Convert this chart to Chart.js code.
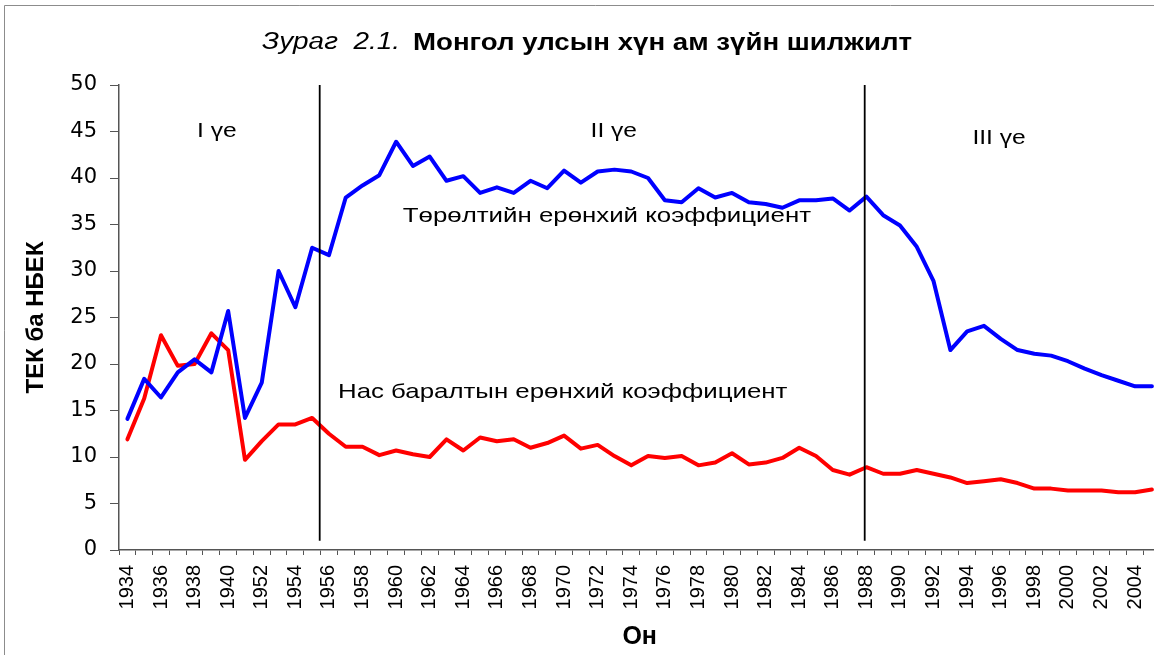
<!DOCTYPE html>
<html><head><meta charset="utf-8">
<script src="https://cdn.jsdelivr.net/npm/chart.js@4.4.1/dist/chart.umd.min.js"></script>
<style>
html,body{margin:0;padding:0;background:#fff;overflow:hidden;width:1154px;height:655px;}
#wrap{position:absolute;left:0;top:0;width:1154px;height:655px;overflow:hidden;background:#fff;}
canvas{position:absolute;left:0;top:0;}
</style></head><body>
<div id="wrap"><canvas id="c" width="1186" height="655"></canvas></div>
<script>
// ---- data ----
const years = ['1934','1935','1936','1937','1938','1939','1940','1950',
  '1952','1953','1954','1955','1956','1957','1958','1959','1960','1961','1962','1963','1964','1965',
  '1966','1967','1968','1969','1970','1971','1972','1973','1974','1975','1976','1977','1978','1979',
  '1980','1981','1982','1983','1984','1985','1986','1987','1988','1989','1990','1991','1992','1993',
  '1994','1995','1996','1997','1998','1999','2000','2001','2002','2003','2004','2005'];
const birthRate = [14.1,18.4,16.4,19.1,20.5,19.1,25.7,14.2,
  18.0,30.0,26.1,32.5,31.7,37.9,39.2,40.3,43.9,41.3,42.3,39.7,40.2,38.4,
  39.0,38.4,39.7,38.9,40.8,39.5,40.7,40.9,40.7,40.0,37.6,37.4,38.9,37.9,
  38.4,37.4,37.2,36.8,37.6,37.6,37.8,36.5,38.0,36.0,34.9,32.6,28.9,21.5,
  23.5,24.1,22.7,21.5,21.1,20.9,20.3,19.5,18.8,18.2,17.6,17.6];
const deathRate = [11.9,16.3,23.1,19.8,20.0,23.3,21.5,9.7,
  11.7,13.5,13.5,14.2,12.5,11.1,11.1,10.2,10.7,10.3,10.0,11.9,10.7,12.1,
  11.7,11.9,11.0,11.5,12.3,10.9,11.3,10.1,9.1,10.1,9.9,10.1,9.1,9.4,
  10.4,9.2,9.4,9.9,11.0,10.1,8.6,8.1,8.9,8.2,8.2,8.6,8.2,7.8,
  7.2,7.4,7.6,7.2,6.6,6.6,6.4,6.4,6.4,6.2,6.2,6.5];
const yTicks = [0,5,10,15,20,25,30,35,40,45,50];
const seriesNames = ['Төрөлтийн ерөнхий коэффициент','Нас баралтын ерөнхий коэффициент'];
const periodNames = ['I үе','II үе','III үе'];
const periodBreaks = ['1956','1988'];
const titleLead = 'Зураг  2.1.';
const titleMain = 'Монгол улсын хүн ам зүйн шилжилт';
const yTitle = 'ТЕК ба НБЕК';
const xTitle = 'Он';

// ---- layout / style (not data) ----
const FONT = '"Liberation Sans", Arial, sans-serif';
const HSCALE = 1.23;
const annotations = [
  {text: periodNames[0], xi: 5.33, yv: 45.05, align: 'center', size: 20},
  {text: periodNames[1], xi: 28.96, yv: 45.05, align: 'center', size: 20},
  {text: periodNames[2], xi: 51.9, yv: 44.3, align: 'center', size: 20},
  {text: seriesNames[0], xi: 16.4, yv: 35.9, align: 'left', size: 21},
  {text: seriesNames[1], xi: 12.54, yv: 17.0, align: 'left', size: 21}
];
const breakShift = [-0.55, -0.1];

function stretchedText(c, text, x, y, sx) {
  c.save();
  c.translate(x, y);
  c.scale(sx, 1);
  c.fillText(text, 0, 0);
  c.restore();
}

const decor = {
  id: 'decor',
  beforeDraw(chart) {
    const c = chart.ctx;
    c.save();
    c.fillStyle = '#fff';
    c.fillRect(0, 0, chart.width, chart.height);
    c.strokeStyle = '#8c8c8c';
    c.lineWidth = 1;
    c.beginPath();
    c.moveTo(4.5, chart.height); c.lineTo(4.5, 5.5); c.lineTo(chart.width, 5.5);
    c.stroke();
    c.restore();
  },
  afterDatasetsDraw(chart) {
    const c = chart.ctx, xs = chart.scales.x, ys = chart.scales.y;
    c.save();
    c.strokeStyle = '#000';
    c.lineWidth = 1.8;
    periodBreaks.forEach((yr, k) => {
      const x = xs.getPixelForValue(years.indexOf(yr) + breakShift[k]);
      c.beginPath();
      c.moveTo(x, ys.getPixelForValue(50));
      c.lineTo(x, ys.getPixelForValue(1.0));
      c.stroke();
    });
    c.restore();
  },
  afterDraw(chart) {
    const c = chart.ctx, xs = chart.scales.x, ys = chart.scales.y;
    c.save();
    c.fillStyle = '#000';
    c.textBaseline = 'middle';
    annotations.forEach(a => {
      c.font = a.size + 'px ' + FONT;
      c.textAlign = a.align;
      stretchedText(c, a.text, xs.getPixelForValue(a.xi), ys.getPixelForValue(a.yv), HSCALE);
    });
    c.textAlign = 'left';
    c.font = 'italic 23px ' + FONT;
    stretchedText(c, titleLead, 262, 43, 138 / c.measureText(titleLead).width);
    c.font = 'bold 24px ' + FONT;
    stretchedText(c, titleMain, 413, 43, 499 / c.measureText(titleMain).width);
    c.restore();
  }
};

new Chart(document.getElementById('c'), {
  type: 'line',
  data: {
    labels: years,
    datasets: [
      {label: seriesNames[0], data: birthRate, borderColor: '#0000ff', backgroundColor: '#0000ff',
       borderWidth: 4, pointRadius: 0, tension: 0, fill: false, borderJoinStyle: 'round', borderCapStyle: 'round'},
      {label: seriesNames[1], data: deathRate, borderColor: '#ff0000', backgroundColor: '#ff0000',
       borderWidth: 4, pointRadius: 0, tension: 0, fill: false, borderJoinStyle: 'round', borderCapStyle: 'round'}
    ]
  },
  options: {
    responsive: false,
    animation: false,
    layout: {padding: {left: 0, top: 85, right: 12, bottom: 0}},
    plugins: {legend: {display: false}, tooltip: {enabled: false}, title: {display: false}},
    scales: {
      x: {
        offset: true,
        grid: {offset: true, drawOnChartArea: false, drawTicks: true, tickLength: 5, color: '#555', lineWidth: 1},
        border: {color: '#555', width: 1.5},
        ticks: {autoSkip: false, maxRotation: 90, minRotation: 90, padding: 10, color: '#000',
                font: {family: FONT, size: 20, lineHeight: 1.2},
                callback: (v, i) => (i % 2 === 0 ? years[i] : '')},
        title: {display: true, text: xTitle, color: '#000',
                font: {family: FONT, size: 25, weight: 'bold'},
                padding: {top: 0, bottom: 3}},
        afterFit: s => { s.height = 105; }
      },
      y: {
        min: 0, max: 50,
        afterBuildTicks: s => { s.ticks = yTicks.map(v => ({value: v})); },
        grid: {drawOnChartArea: false, drawTicks: true, tickLength: 9, color: '#555', lineWidth: 1},
        border: {color: '#555', width: 1.5},
        ticks: {padding: 13, color: '#000', font: {family: '"DejaVu Sans", sans-serif', size: 21}},
        title: {display: true, text: yTitle, color: '#000', font: {family: FONT, size: 24, weight: 'bold'},
                padding: {top: 22, bottom: 0}},
        afterFit: s => { s.width = 119; }
      }
    }
  },
  plugins: [decor]
});
</script>
</body></html>
